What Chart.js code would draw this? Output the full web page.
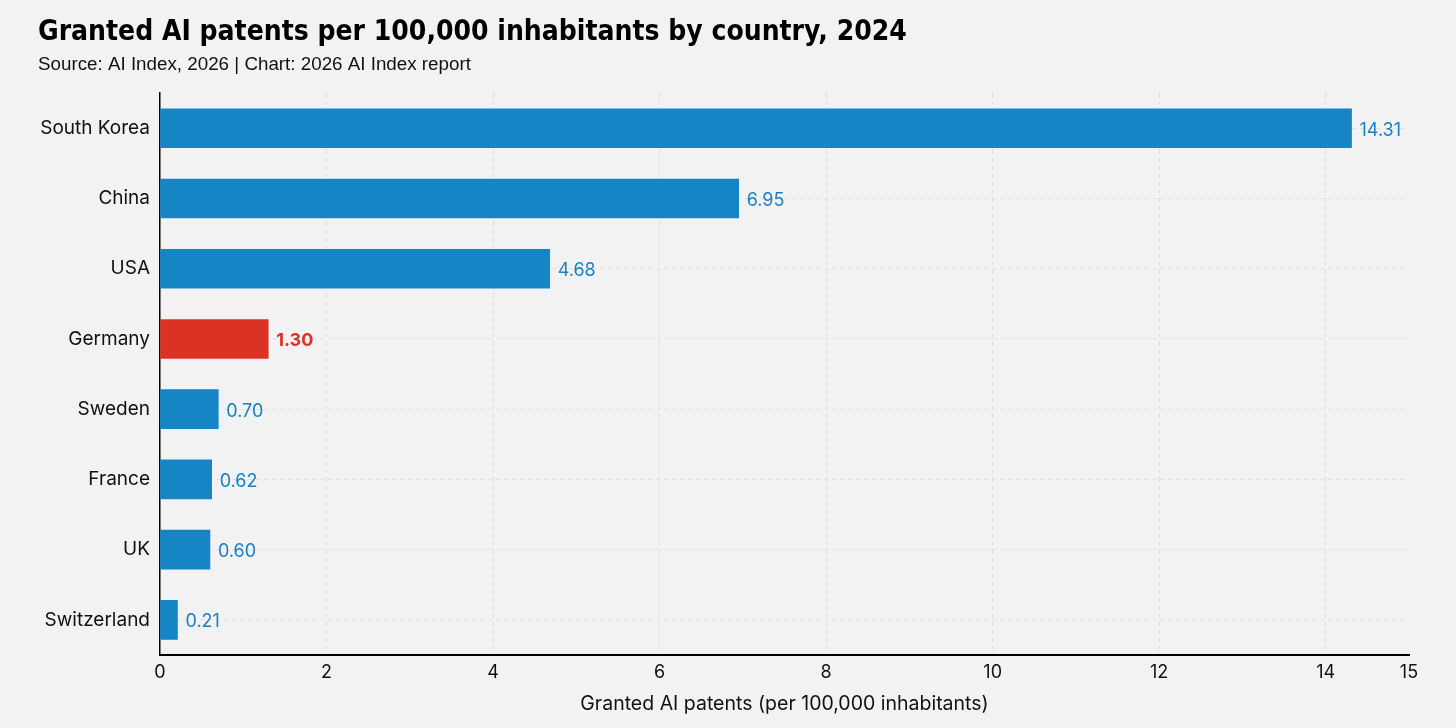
<!DOCTYPE html>
<html>
<head>
<meta charset="utf-8">
<script src="https://cdn.jsdelivr.net/npm/chart.js@4.4.1/dist/chart.umd.min.js"></script>
<style>
  html, body { margin: 0; padding: 0; background: #f2f2f2; }
  #wrap { width: 1456px; height: 728px; }
</style>
</head>
<body>
<div id="wrap"><canvas id="chartPatents" width="1456" height="728"></canvas></div>
<script>
// Dados
const countries = ['South Korea', 'China', 'USA', 'Germany', 'Sweden', 'France', 'UK', 'Switzerland'];
const patents = [14.31, 6.95, 4.68, 1.30, 0.70, 0.62, 0.60, 0.21];
const xTicks = [0, 2, 4, 6, 8, 10, 12, 14, 15];
const highlight = 'Germany';

// Cores
const blue = '#1585c6';
const red = '#dc3226';
const blueText = '#1a80c2';

const barColors = countries.map(c => c === highlight ? red : blue);

// Rótulos de valor ao lado das barras
const valueLabels = {
    id: 'valueLabels',
    afterDatasetsDraw(chart) {
        const ctx = chart.ctx;
        const meta = chart.getDatasetMeta(0);
        ctx.save();
        ctx.textBaseline = 'middle';
        ctx.textAlign = 'left';
        meta.data.forEach((bar, i) => {
            const isHi = countries[i] === highlight;
            ctx.fillStyle = isHi ? red : blueText;
            ctx.font = (isHi ? 'bold ' : '') + '18px Inter, sans-serif';
            ctx.fillText(patents[i].toFixed(2), bar.x + 8, bar.y + 2);
        });
        ctx.restore();
    }
};

Chart.defaults.font.family = 'Inter, "Liberation Sans", sans-serif';
Chart.defaults.color = '#111';

new Chart(document.getElementById('chartPatents'), {
    type: 'bar',
    data: {
        labels: countries,
        datasets: [{
            data: patents,
            backgroundColor: barColors,
            barThickness: 39,
            borderWidth: 0
        }]
    },
    plugins: [valueLabels],
    options: {
        indexAxis: 'y',
        responsive: false,
        animation: false,
        devicePixelRatio: 1,
        layout: { padding: { left: 38, right: 47, top: 16, bottom: 12 } },
        plugins: {
            legend: { display: false },
            tooltip: { enabled: false },
            title: {
                display: true,
                text: 'Granted AI patents per 100,000 inhabitants by country, 2024',
                align: 'start',
                color: '#000',
                font: { family: '"DejaVu Sans Condensed", sans-serif', size: 28, weight: 'bold' },
                padding: { top: 0, bottom: 4 }
            },
            subtitle: {
                display: true,
                text: 'Source: AI Index, 2026 | Chart: 2026 AI Index report',
                align: 'start',
                color: '#111',
                font: { family: '"Liberation Sans", sans-serif', size: 18.8 },
                padding: { top: 0, bottom: 17 }
            }
        },
        scales: {
            x: {
                min: 0,
                max: 15,
                afterBuildTicks: axis => { axis.ticks = xTicks.map(v => ({ value: v })); },
                grid: {
                    color: ctx => (ctx.tick && (ctx.tick.value === 0 || ctx.tick.value === 15)) ? 'rgba(0,0,0,0)' : '#dcdcdc',
                    drawTicks: false
                },
                border: { display: true, color: '#000', width: 2, dash: [4, 4] },
                ticks: { color: '#111', font: { size: 18 }, padding: 7 },
                title: {
                    display: true,
                    text: 'Granted AI patents (per 100,000 inhabitants)',
                    color: '#111',
                    font: { size: 19.5 },
                    padding: { top: 2, bottom: 0 }
                }
            },
            y: {
                afterFit: scale => { scale.width = 122; },
                border: { display: true, color: '#000', width: 1.5, dash: [4, 4] },
                grid: { offset: false, color: '#e0e0e0', drawTicks: false },
                ticks: { color: '#111', font: { size: 19 }, padding: 10 }
            }
        }
    }
});
</script>
</body>
</html>
